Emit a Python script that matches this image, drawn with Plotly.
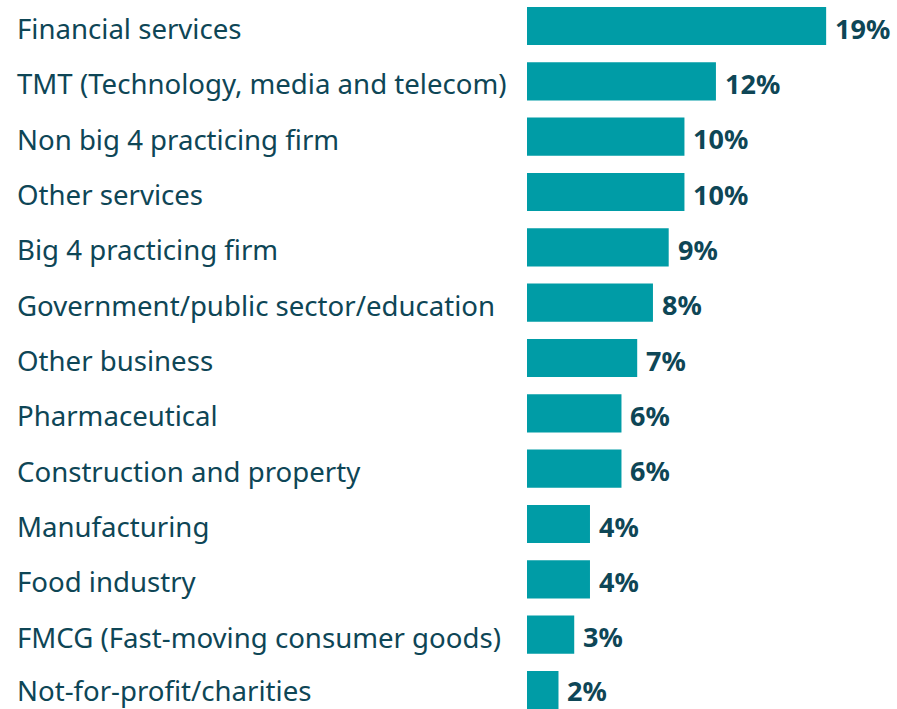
import plotly.graph_objects as go

sectors = [
    "Financial services",
    "TMT (Technology, media and telecom)",
    "Non big 4 practicing firm",
    "Other services",
    "Big 4 practicing firm",
    "Government/public sector/education",
    "Other business",
    "Pharmaceutical",
    "Construction and property",
    "Manufacturing",
    "Food industry",
    "FMCG (Fast-moving consumer goods)",
    "Not-for-profit/charities",
]
shares = [19, 12, 10, 10, 9, 8, 7, 6, 6, 4, 4, 3, 2]

BAR = "#009CA6"
INK = "#0E4656"
FONT = "Noto Sans"

W, H = 897, 709
LEFT = 527

fig = go.Figure(
    go.Bar(
        x=shares,
        y=list(range(len(sectors))),
        orientation="h",
        marker=dict(color=BAR, line=dict(width=0)),
        width=0.69,
        hoverinfo="skip",
    )
)

annotations = []
last = len(sectors) - 1
for i, (name, v) in enumerate(zip(sectors, shares)):
    dy = 0 if i == last else -2
    annotations.append(dict(
        x=-(LEFT - 15) / (W - LEFT), xref="paper", y=i, yref="y",
        text=name, showarrow=False, xanchor="left", yanchor="middle",
        yshift=dy, font=dict(family=FONT, size=27.6, color=INK),
    ))
    annotations.append(dict(
        x=v, xref="x", y=i, yref="y",
        text=f"<b>{v}%</b>", showarrow=False, xanchor="left", yanchor="middle",
        xshift=7, yshift=dy, font=dict(family=FONT, size=27, color=INK),
    ))

fig.update_layout(
    width=W, height=H,
    margin=dict(l=LEFT, r=0, t=0, b=0),
    paper_bgcolor="white", plot_bgcolor="white",
    showlegend=False,
    xaxis=dict(range=[0, 23.5], visible=False, fixedrange=True),
    yaxis=dict(range=[12.343, -0.47], visible=False, fixedrange=True),
    annotations=annotations,
)

fig.write_html("out.html", config={"displayModeBar": False})
